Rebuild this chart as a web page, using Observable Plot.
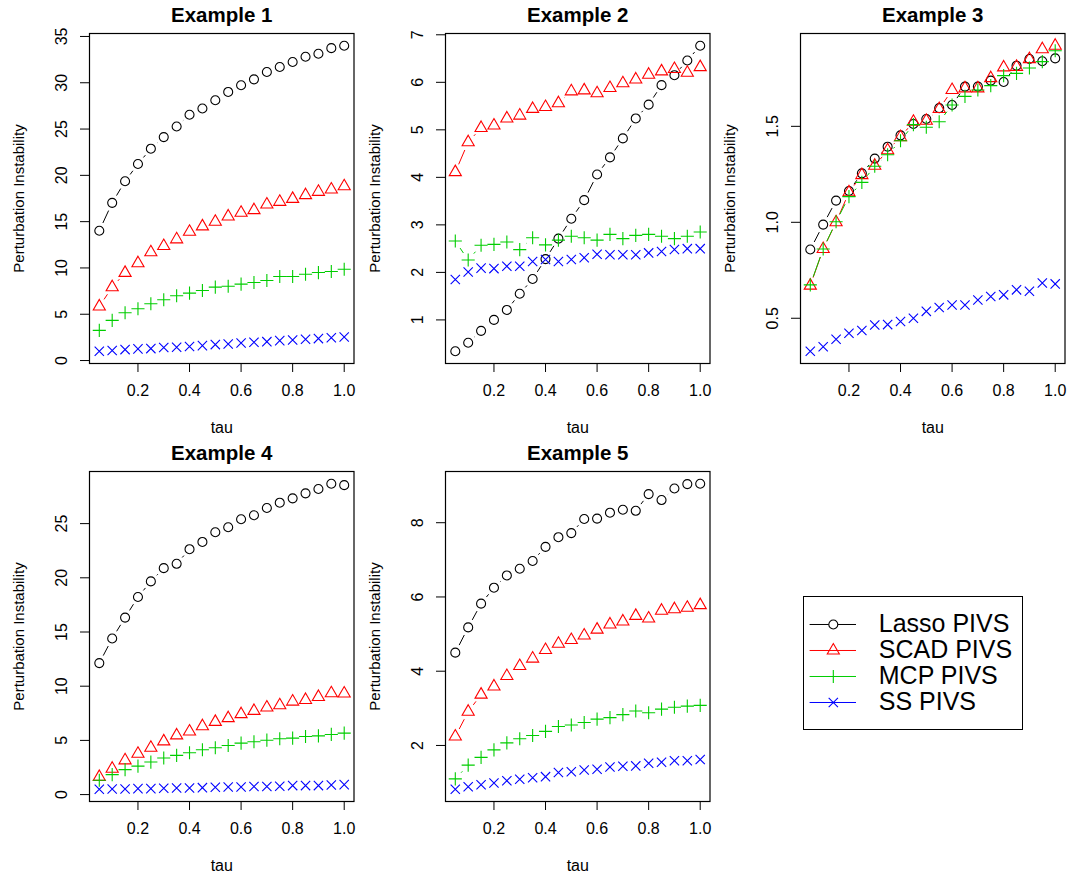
<!DOCTYPE html>
<html><head><meta charset="utf-8">
<script src="https://cdn.jsdelivr.net/npm/d3@7"></script>
<script src="https://cdn.jsdelivr.net/npm/@observablehq/plot@0.6"></script>
<style>
html,body{margin:0;padding:0;background:#fff;}
#chart{position:relative;width:1072px;height:877px;overflow:hidden;background:#fff;font-family:"Liberation Sans",Arial,Helvetica,sans-serif;}
#chart svg{position:absolute;overflow:visible;}
#legendBox{position:absolute;box-sizing:border-box;border:1px solid #000;}
#legendBox svg{position:absolute;left:0;top:0;}
</style></head><body><div id="chart"></div>
<script>
// ---------- data ----------
const tau = [0.05,0.10,0.15,0.20,0.25,0.30,0.35,0.40,0.45,0.50,0.55,0.60,0.65,0.70,0.75,0.80,0.85,0.90,0.95,1.00];
const seriesNames = ["Lasso PIVS","SCAD PIVS","MCP PIVS","SS PIVS"];
const panelTitles = ["Example 1","Example 2","Example 3","Example 4","Example 5"];
const xTicks = [0.2,0.4,0.6,0.8,1.0];

const ex1Lasso = [14.02,17.03,19.36,21.23,22.88,24.13,25.28,26.54,27.22,28.11,29.01,29.73,30.37,31.16,31.70,32.24,32.81,33.13,33.74,34.00];
const ex1Scad  = [5.84,7.92,9.47,10.51,11.69,12.37,13.09,13.91,14.49,14.99,15.56,15.96,16.24,16.85,17.14,17.46,17.86,18.22,18.47,18.82];
const ex1Mcp   = [3.26,4.34,5.16,5.59,6.13,6.56,6.99,7.28,7.57,7.93,8.03,8.25,8.43,8.64,9.07,9.07,9.32,9.50,9.61,9.86];
const ex1Ss    = [1.00,1.08,1.18,1.26,1.29,1.40,1.43,1.51,1.61,1.72,1.79,1.90,1.97,2.04,2.15,2.22,2.30,2.37,2.47,2.55];
const ex1YTicks = [0,5,10,15,20,25,30,35];

const ex2Lasso = [0.34,0.52,0.77,1.00,1.21,1.55,1.86,2.28,2.71,3.13,3.52,4.06,4.42,4.82,5.24,5.53,5.94,6.15,6.46,6.77];
const ex2Scad  = [4.11,4.74,5.04,5.09,5.24,5.30,5.44,5.48,5.56,5.81,5.83,5.77,5.88,5.98,6.06,6.16,6.23,6.28,6.20,6.32];
const ex2Mcp   = [2.66,2.26,2.57,2.59,2.64,2.48,2.73,2.58,2.68,2.76,2.73,2.68,2.80,2.71,2.78,2.80,2.76,2.71,2.76,2.85];
const ex2Ss    = [1.85,2.01,2.09,2.08,2.13,2.13,2.23,2.27,2.23,2.27,2.31,2.38,2.37,2.37,2.37,2.41,2.44,2.48,2.50,2.50];
const ex2YTicks = [1,2,3,4,5,6,7];

const ex3Lasso = [0.858,0.988,1.113,1.163,1.255,1.332,1.394,1.453,1.512,1.538,1.595,1.611,1.707,1.707,1.738,1.731,1.816,1.851,1.839,1.854];
const ex3Scad  = [0.670,0.861,1.000,1.156,1.246,1.295,1.375,1.444,1.524,1.529,1.590,1.689,1.698,1.698,1.751,1.807,1.810,1.850,1.902,1.920];
const ex3Mcp   = [0.674,0.861,1.003,1.134,1.208,1.292,1.352,1.425,1.509,1.495,1.524,1.611,1.656,1.689,1.712,1.764,1.776,1.804,1.837,1.894];
const ex3Ss    = [0.328,0.352,0.391,0.422,0.436,0.465,0.467,0.483,0.500,0.536,0.556,0.569,0.569,0.595,0.613,0.622,0.648,0.641,0.684,0.679];
const ex3YTicks = [0.5,1.0,1.5];

const ex4Lasso = [12.13,14.40,16.33,18.23,19.67,20.89,21.29,22.64,23.31,24.20,24.66,25.40,25.77,26.44,26.93,27.33,27.79,28.19,28.68,28.55];
const ex4Scad  = [1.63,2.39,3.16,3.77,4.32,4.91,5.46,5.82,6.31,6.71,7.05,7.42,7.72,8.03,8.24,8.58,8.73,9.01,9.35,9.32];
const ex4Mcp   = [1.32,1.84,2.30,2.63,3.00,3.37,3.62,3.86,4.14,4.32,4.53,4.75,4.87,5.02,5.15,5.21,5.36,5.42,5.55,5.67];
const ex4Ss    = [0.49,0.52,0.52,0.55,0.55,0.58,0.61,0.61,0.64,0.67,0.70,0.70,0.74,0.74,0.77,0.83,0.83,0.83,0.89,0.92];
const ex4YTicks = [0,5,10,15,20,25];

const ex5Lasso = [4.50,5.18,5.82,6.25,6.58,6.76,6.97,7.35,7.61,7.72,8.10,8.11,8.27,8.35,8.32,8.77,8.61,8.92,9.04,9.05];
const ex5Scad  = [2.24,2.91,3.37,3.59,3.87,4.14,4.34,4.57,4.74,4.84,4.96,5.12,5.26,5.34,5.49,5.42,5.63,5.67,5.71,5.78];
const ex5Mcp   = [1.10,1.47,1.68,1.88,2.07,2.18,2.27,2.38,2.51,2.55,2.62,2.71,2.75,2.83,2.93,2.88,2.98,3.03,3.06,3.08];
const ex5Ss    = [0.82,0.89,0.94,0.99,1.05,1.09,1.13,1.16,1.27,1.29,1.34,1.36,1.42,1.44,1.45,1.52,1.55,1.59,1.59,1.62];
const ex5YTicks = [2,4,6,8];

// ---------- styling ----------
const colors  = ["#000000","#FF0000","#00CD00","#0000FF"];
const symbols = ["circle","triangle","plus","times"];
const radii   = [4.5,4.5,4.3,4.3];
const FONT = '"Liberation Sans", Arial, Helvetica, sans-serif';

const panels = [
  {title: panelTitles[0], series:[ex1Lasso,ex1Scad,ex1Mcp,ex1Ss], yTicks: ex1YTicks, fmt: d3.format("d"),   left: 0,     top: 0},
  {title: panelTitles[1], series:[ex2Lasso,ex2Scad,ex2Mcp,ex2Ss], yTicks: ex2YTicks, fmt: d3.format("d"),   left: 355.5, top: 0},
  {title: panelTitles[2], series:[ex3Lasso,ex3Scad,ex3Mcp,ex3Ss], yTicks: ex3YTicks, fmt: d3.format(".1f"), left: 711,   top: 0},
  {title: panelTitles[3], series:[ex4Lasso,ex4Scad,ex4Mcp,ex4Ss], yTicks: ex4YTicks, fmt: d3.format("d"),   left: 0,     top: 437.5},
  {title: panelTitles[4], series:[ex5Lasso,ex5Scad,ex5Mcp,ex5Ss], yTicks: ex5YTicks, fmt: d3.format("d"),   left: 355.5, top: 437.5}
];

const chart = document.getElementById("chart");

function rRange(vals) {
  const lo = d3.min(vals), hi = d3.max(vals), pad = (hi - lo) * 0.04;
  return [lo - pad, hi + pad];
}

for (const p of panels) {
  const all = p.series.flat();
  const xDom = rRange(tau);
  const yDom = rRange(all);
  const marks = [Plot.frame({stroke: "black", strokeWidth: 1.2})];
  p.series.forEach((vals, s) => {
    const pts = vals.map((v, i) => ({x: tau[i], y: v}));
    const segs = d3.pairs(pts).map(([a, b]) => ({x1: a.x, y1: a.y, x2: b.x, y2: b.y}));
    marks.push(Plot.arrow(segs, {x1: "x1", y1: "y1", x2: "x2", y2: "y2",
      stroke: colors[s], strokeWidth: 1, headLength: 0, insetStart: 8.5, insetEnd: 8.5, strokeLinecap: "butt"}));
    marks.push(Plot.dot(pts, {x: "x", y: "y", symbol: () => symbols[s], r: radii[s],
      stroke: colors[s], fill: "none", strokeWidth: 1.1}));
  });
  marks.push(
    Plot.axisX(xTicks, {tickSize: 9, tickPadding: 12, tickFormat: d3.format(".1f"), fontSize: 16, label: null}),
    Plot.axisY(p.yTicks, {tickSize: 9, tickFormat: () => "", label: null}),
    Plot.text(p.yTicks, {y: d => d, text: d => p.fmt(d), frameAnchor: "left", dx: -28, rotate: -90,
      textAnchor: "middle", lineAnchor: "middle", fontSize: 16}),
    Plot.text(["Perturbation Instability"], {text: d => d, frameAnchor: "left", dx: -70, rotate: -90,
      textAnchor: "middle", lineAnchor: "middle", fontSize: 15}),
    Plot.text(["tau"], {text: d => d, frameAnchor: "bottom", dy: 64, textAnchor: "middle", lineAnchor: "middle", fontSize: 16}),
    Plot.text([p.title], {text: d => d, frameAnchor: "top", dy: -18, textAnchor: "middle", lineAnchor: "middle",
      fontSize: 20.5, fontWeight: "bold"})
  );
  const svg = Plot.plot({
    width: 357, height: 438,
    marginLeft: 89, marginRight: 3.5, marginTop: 33, marginBottom: 75,
    x: {domain: xDom},
    y: {domain: yDom},
    style: {fontFamily: FONT, fontSize: "16px", color: "black", background: "transparent", overflow: "visible"},
    marks
  });
  svg.style.left = p.left + "px";
  svg.style.top = p.top + "px";
  chart.appendChild(svg);
}

// ---------- legend ----------
const legendBox = document.createElement("div");
legendBox.id = "legendBox";
legendBox.style.left = "802.7px";
legendBox.style.top = "596px";
legendBox.style.width = "220.6px";
legendBox.style.height = "134px";
chart.appendChild(legendBox);

const legendRows = seriesNames.map((name, i) => ({name, color: colors[i], symbol: symbols[i], r: radii[i], fill: i === 0 ? "white" : "none"}));
const legend = Plot.plot({
  width: 218.6, height: 132,
  marginLeft: 5.6, marginRight: 166.6, marginTop: 0, marginBottom: 0,
  x: {domain: [0, 1], axis: null},
  y: {type: "point", domain: seriesNames, padding: 1, axis: null},
  style: {fontFamily: FONT, color: "black", background: "transparent", overflow: "visible"},
  marks: [
    Plot.ruleY(legendRows, {y: "name", x1: 0, x2: 1, stroke: "color", strokeWidth: 1}),
    ...legendRows.map(row => Plot.dot([row], {x: 0.5, y: "name", symbol: () => row.symbol, r: row.r,
      stroke: row.color, fill: row.fill, strokeWidth: 1.1})),
    Plot.text(legendRows, {x: 1, y: "name", text: "name", dx: 22.3, textAnchor: "start", lineAnchor: "middle", fontSize: 25})
  ]
});
legendBox.appendChild(legend);
</script>
</body></html>
